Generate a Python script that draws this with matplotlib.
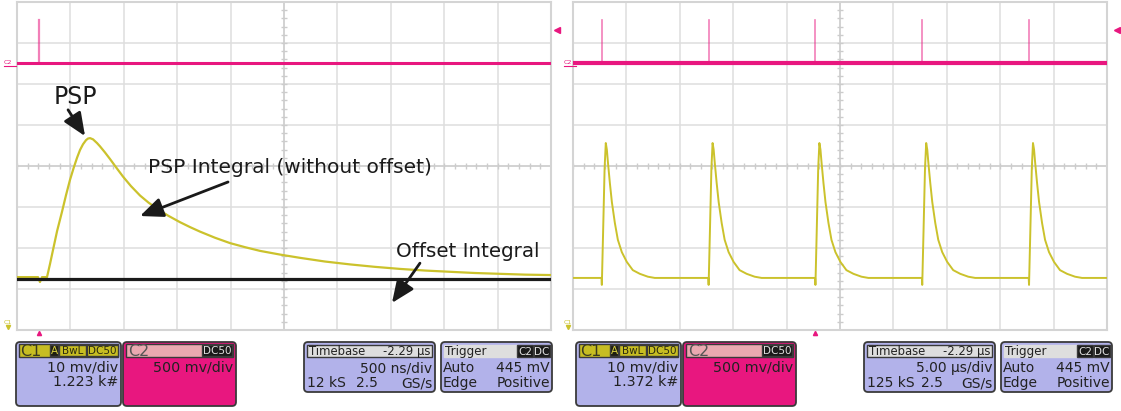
import matplotlib
matplotlib.use('Agg')
import matplotlib.pyplot as plt
from matplotlib.patches import FancyBboxPatch, Rectangle
import numpy as np

# ---------------- data (time in µs, amplitude in divisions) ----------------
# Left screen: single PSP, 500 ns/div
psp_t = [0.0, 0.197, 0.215, 0.234, 0.281, 0.309, 0.337, 0.375, 0.421, 0.459, 0.496,
         0.530, 0.562, 0.590, 0.618, 0.646, 0.665, 0.684, 0.712, 0.749, 0.777, 0.824,
         0.871, 0.927, 0.993, 1.067, 1.152, 1.230, 1.311, 1.414, 1.526, 1.620, 1.713,
         1.854, 1.994, 2.135, 2.275, 2.462, 2.650, 2.884, 3.118, 3.352, 3.586, 3.820,
         4.054, 4.288, 4.522, 4.761, 5.0]
psp_v = [-2.71, -2.71, -2.83, -2.71, -2.71, -2.39, -2.05, -1.59, -1.12, -0.71, -0.34,
         -0.05, 0.20, 0.39, 0.53, 0.63, 0.67, 0.68, 0.65, 0.56, 0.48, 0.33,
         0.17, -0.03, -0.26, -0.49, -0.72, -0.89, -1.04, -1.21, -1.37, -1.49, -1.60,
         -1.75, -1.88, -1.98, -2.07, -2.16, -2.24, -2.33, -2.40, -2.46, -2.51, -2.55,
         -2.58, -2.61, -2.63, -2.65, -2.66]
offset_t = [0.0, 5.0]
offset_v = [-2.76, -2.76]
c2_left_spikes = [0.206]

# Right screen: pulse train, 5 µs/div
pulse_starts = [2.7, 12.7, 22.7, 32.7, 42.7]
pulse_dt = [-0.19, -0.03, 0.0, 0.12, 0.26, 0.37, 0.47, 0.56, 0.75, 0.94, 1.22, 1.50,
            1.87, 2.34, 2.90, 3.56, 4.31, 4.96]
pulse_v = [-2.73, -2.73, -2.90, -1.60, -0.05, 0.56, 0.40, 0.12, -0.41, -0.88, -1.39, -1.80,
           -2.10, -2.34, -2.54, -2.63, -2.70, -2.73]
pulse_base = -2.73

c2_base = 2.51
c2_spike_top = 3.56

# info panel texts
c1_scale = "10 mv/div"
c1_counts = ["1.223 k#", "1.372 k#"]
c2_scale = "500 mv/div"
tb_offset = "-2.29 µs"
tb_scale = ["500 ns/div", "5.00 µs/div"]
tb_samples = ["12 kS", "125 kS"]
tb_rate = "2.5"
trig_level_txt = "445 mV"

# ---------------- figure ----------------
W, H = 1121, 411
fig = plt.figure(figsize=(W / 100, H / 100), dpi=100)
fig.patch.set_facecolor('white')

def ax_rect(x0, y0, x1, y1):
    return [x0 / W, 1 - y1 / H, (x1 - x0) / W, (y1 - y0) / H]

YEL = '#cbc22c'
MAG = '#e8177f'
GRID = '#dedede'

def scope(ax, xmax):
    ax.set_xlim(0, xmax)
    ax.set_ylim(-4, 4)
    ax.set_xticks([]); ax.set_yticks([])
    for s in ax.spines.values():
        s.set_color('#d4d4d4'); s.set_linewidth(1.5)
    for i in range(1, 10):
        ax.axvline(xmax * i / 10, color=GRID, lw=1.1, zorder=0)
    for j in range(-3, 4):
        ax.axhline(j, color=GRID, lw=1.1, zorder=0)
    ax.axhline(0, color='#d0d0d0', lw=1.2, zorder=0)
    ax.axvline(xmax / 2, color='#d0d0d0', lw=1.2, zorder=0)
    xs = np.arange(0, xmax, xmax / 50)
    ax.plot(xs, np.zeros_like(xs), '|', ms=4, color='#cccccc', mew=1, zorder=0)
    ys = np.arange(-4, 4, 0.2)
    ax.plot(np.full_like(ys, xmax / 2), ys, '_', ms=4, color='#cccccc', mew=1, zorder=0)

axL = fig.add_axes(ax_rect(17, 2, 551, 330))
axR = fig.add_axes(ax_rect(573, 2, 1107, 330))
scope(axL, 5.0)
scope(axR, 50.0)

# left traces
axL.plot([0, 5.0], [c2_base, c2_base], color=MAG, lw=2.2, zorder=3)
for t in c2_left_spikes:
    axL.plot([t, t], [c2_base, c2_spike_top], color=MAG, lw=1.6, alpha=0.55, zorder=3)
axL.plot(psp_t, psp_v, color=YEL, lw=1.6, zorder=3, solid_joinstyle='round')
axL.plot(offset_t, offset_v, color='#1a1a1a', lw=2.3, zorder=4)

# right traces
rt = [0.0]
rv = [pulse_base]
for s in pulse_starts:
    rt += [s + d for d in pulse_dt]
    rv += pulse_v
rt.append(50.0); rv.append(pulse_base)
axR.plot([0, 50.0], [c2_base, c2_base], color=MAG, lw=3.0, zorder=3)
for s in pulse_starts:
    axR.plot([s, s], [c2_base, c2_spike_top], color=MAG, lw=1.2, alpha=0.55, zorder=3)
axR.plot(rt, rv, color=YEL, lw=1.4, zorder=3, solid_joinstyle='round')

# annotations
arw = dict(arrowstyle='-|>,head_width=0.3,head_length=0.7', lw=2.0, color='#1a1a1a',
           mutation_scale=20, shrinkA=0, shrinkB=0)
axL.text(0.548, 1.68, "PSP", fontsize=17, ha='center', va='center', color='#1a1a1a')
axL.annotate("", xy=(0.637, 0.73), xytext=(0.478, 1.37), arrowprops=arw)
axL.text(1.227, -0.17, "PSP Integral (without offset)", fontsize=14.5, ha='left',
         va='baseline', color='#1a1a1a')
axL.annotate("", xy=(1.152, -1.22), xytext=(1.976, -0.39), arrowprops=arw)
axL.text(3.549, -2.22, "Offset Integral", fontsize=14.3, ha='left', va='baseline',
         color='#1a1a1a')
axL.annotate("", xy=(3.511, -3.34), xytext=(3.773, -2.37), arrowprops=arw)

# ---------------- overlay (pixel coordinates) ----------------
ov = fig.add_axes([0, 0, 1, 1], zorder=5)
ov.set_xlim(0, W); ov.set_ylim(H, 0); ov.axis('off'); ov.patch.set_alpha(0)

LAV = '#b2b2ea'
EDGE = '#3a3a3a'

def rbox(x0, y0, x1, y1, fc, r=4, lw=1.3):
    ov.add_patch(FancyBboxPatch((x0 + r, y0 + r), x1 - x0 - 2 * r, y1 - y0 - 2 * r,
                                boxstyle=f'round,pad={r}', fc=fc, ec=EDGE, lw=lw))

def rect(x0, y0, x1, y1, fc, ec=EDGE, lw=1.0):
    ov.add_patch(Rectangle((x0, y0), x1 - x0, y1 - y0, fc=fc, ec=ec, lw=lw))

def tag(x0, x1, y0, y1, s, fc, tc, fs=8.5):
    rect(x0, y0, x1, y1, fc)
    ov.text((x0 + x1) / 2, (y0 + y1) / 2 + 0.5, s, fontsize=fs, ha='center', va='center', color=tc)

def txt(x, y, s, ha='left', fs=10, c='#222222'):
    ov.text(x, y, s, fontsize=fs, ha=ha, va='baseline', color=c)

for k, dx in enumerate([0, 560]):
    # channel markers
    ov.text(8 + dx, 63, "C2", fontsize=4.5, color=MAG, ha='center', va='center')
    ov.plot([4 + dx, 16 + dx], [66, 66], color=MAG, lw=0.8)
    ov.text(8 + dx, 322, "C1", fontsize=4.5, color=YEL, ha='center', va='center')
    ov.plot([8 + dx], [327], marker='v', ms=3, color=YEL)
    ov.plot([557 + dx], [30], marker='<', ms=4, color=MAG)
    tpos = 39 + dx if k == 0 else 815
    ov.plot([tpos], [333], marker='^', ms=3, color=MAG)

    # C1 box
    rbox(16 + dx, 342, 121 + dx, 406, LAV)
    rect(19 + dx, 344, 118 + dx, 357, '#c7bd22')
    txt(20 + dx, 356, "C1", fs=11.5, c='#3a3a20')
    tag(50 + dx, 58 + dx, 345, 356, "A", '#1e1e10', '#d8d040', fs=7.5)
    tag(59 + dx, 86 + dx, 345, 356, "BwL", '#c7bd22', '#2a2a10', fs=7.5)
    tag(87 + dx, 118 + dx, 345, 356, "DC50", '#c7bd22', '#2a2a10', fs=7.5)
    txt(118 + dx, 371, c1_scale, ha='right', fs=10.3)
    txt(118 + dx, 386, c1_counts[k], ha='right', fs=10.3)

    # C2 box
    rbox(123 + dx, 342, 236 + dx, 406, MAG)
    rect(126 + dx, 344, 233 + dx, 357, '#eaa9b0')
    txt(128 + dx, 356, "C2", fs=11.5, c='#555555')
    tag(202 + dx, 232 + dx, 345, 356, "DC50", '#1a1a1a', '#e0e0e0', fs=7.5)
    txt(233 + dx, 371, c2_scale, ha='right', fs=10.3)

    # Timebase box
    rbox(304 + dx, 342, 435 + dx, 392, LAV)
    rect(307 + dx, 345, 432 + dx, 357, '#dedede')
    txt(309 + dx, 355, "Timebase", fs=8.4)
    txt(430 + dx, 355, tb_offset, ha='right', fs=8.4)
    txt(432 + dx, 372, tb_scale[k], ha='right')
    txt(307 + dx, 387, tb_samples[k])
    txt((367 if k == 0 else 372) + dx, 387, tb_rate, ha='center')
    txt(432 + dx, 387, "GS/s", ha='right')

    # Trigger box
    rbox(441 + dx, 342, 552 + dx, 392, LAV)
    rect(444 + dx, 345, 517 + dx, 357, '#dedede', ec='#dedede')
    txt(445 + dx, 355, "Trigger", fs=8.6)
    tag(517 + dx, 533 + dx, 345, 357, "C2", '#1a1a1a', '#e0e0e0', fs=7.5)
    tag(534 + dx, 550 + dx, 345, 357, "DC", '#1a1a1a', '#e0e0e0', fs=7.5)
    txt(443 + dx, 372, "Auto")
    txt(550 + dx, 372, trig_level_txt, ha='right')
    txt(443 + dx, 387, "Edge")
    txt(550 + dx, 387, "Positive", ha='right')

fig.savefig('out.png', dpi=100)
